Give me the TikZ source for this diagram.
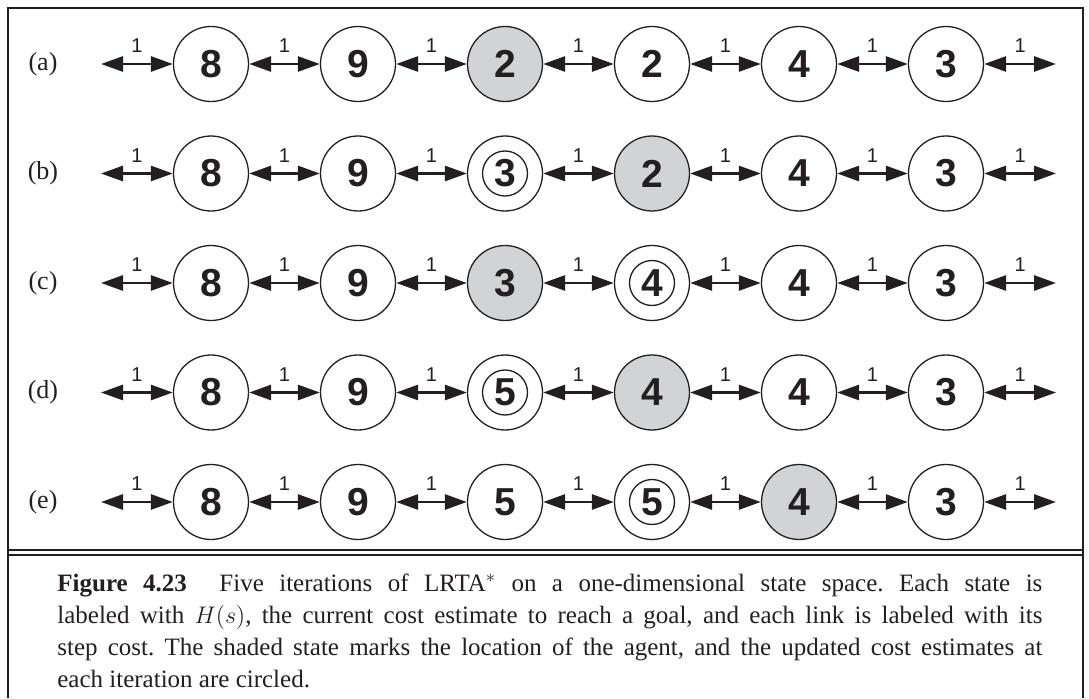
\documentclass[tikz,border=0pt]{standalone}
\usepackage{fontspec}
\setmainfont{Liberation Serif}
\newfontfamily\statefont{Liberation Sans}
\usepackage{xcolor}
\usepackage{tikz}
\usetikzlibrary{arrows.meta}
\definecolor{Ink}{HTML}{231F20}
\definecolor{Shade}{HTML}{D1D3D4}

\begin{document}
\begin{tikzpicture}[
  x=0.5pt,y=0.5pt,
  state/.style={circle,draw=Ink,line width=0.65pt,minimum size=37.5pt,inner sep=0pt,
    text=Ink,font=\statefont\fontsize{19.5}{19.5}\selectfont\bfseries},
  plain/.style={state},
  agent/.style={state,fill=Shade},
  updated/.style={state,path picture={\draw[Ink,line width=0.65pt]
    (path picture bounding box.center) circle (11.25pt);}},
  link/.style={{Triangle[length=11pt,width=7.5pt]}-{Triangle[length=11pt,width=7.5pt]},
    line width=1.4pt,color=Ink},
  cost/.style={font=\statefont\fontsize{10}{10}\selectfont,text=Ink,inner sep=0pt,above=5pt},
  rowlabel/.style={font=\fontsize{13}{13}\selectfont,text=Ink},
  caption/.style={inner sep=0pt,text=Ink,font=\fontsize{12.5}{16}\selectfont},
  rule/.style={draw=Ink,line width=1pt}
]
\useasboundingbox (0,0) rectangle (1089,698);

% Figure frame and the double rule above the caption.
\draw[rule] (8,0) -- (8,690) -- (1083,690) -- (1083,0);
\draw[rule] (8,148) -- (1083,148);
\draw[draw=Ink,line width=0.65pt] (8,143) -- (1083,143);

% One row of states per iteration.
\foreach \r/\y/\row in {
  a/634/{plain/8,plain/9,agent/2,plain/2,plain/4,plain/3},
  b/524.5/{plain/8,plain/9,updated/3,agent/2,plain/4,plain/3},
  c/415/{plain/8,plain/9,agent/3,updated/4,plain/4,plain/3},
  d/305.5/{plain/8,plain/9,updated/5,agent/4,plain/4,plain/3},
  e/196/{plain/8,plain/9,plain/5,updated/5,agent/4,plain/3}} {
  \node[rowlabel] (lab\r) at (43,\y) {(\r)};
  \coordinate (w\r) at (101,\y);
  \coordinate (e\r) at (1056,\y);
  \foreach \kind/\v [count=\j] in \row {
    \node[\kind] (s\r\j) at ({64+147*\j},\y) {\v};
  }
  \draw[link] (w\r) -- (s\r1) node[midway,cost] {1};
  \foreach \j [evaluate=\j as \k using int(\j+1)] in {1,...,5}
    \draw[link] (s\r\j) -- (s\r\k) node[midway,cost] {1};
  \draw[link] (s\r6) -- (e\r) node[midway,cost] {1};
}

% Caption.
\node[caption,anchor=base west] (cap) at (57,107) {\parbox[t]{492.5pt}{\frenchspacing
  \textbf{Figure 4.23}\hskip 1.3em Five iterations of LRTA$^*$ on a one-dimensional
  state space. Each state is\linebreak labeled with $H(s)$, the current cost estimate
  to reach a goal, and each link is labeled with its\linebreak step cost. The shaded
  state marks the location of the agent, and the updated cost estimates at\linebreak
  each iteration are circled.}};
\end{tikzpicture}
\end{document}
